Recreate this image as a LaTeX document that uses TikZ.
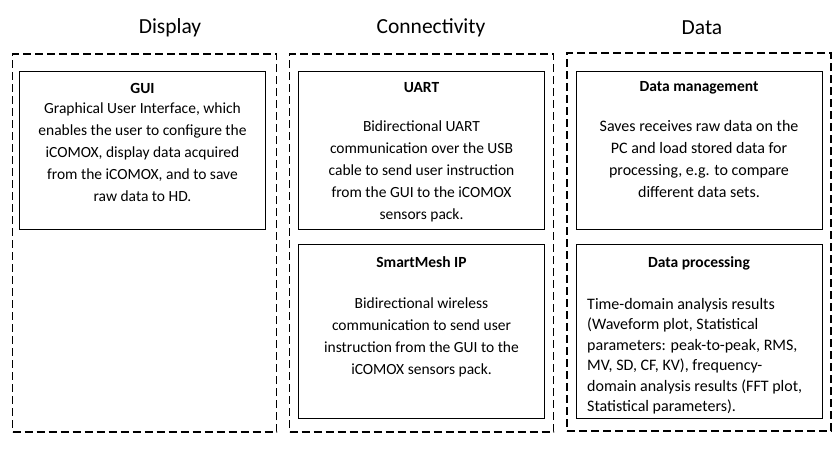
\documentclass[tikz,border=0pt]{standalone}
\usepackage{fontspec}
\setmainfont{Carlito}
\usetikzlibrary{positioning}
\tikzset{
  groupbox/.style={draw,line width=1.8pt,dash pattern=on 8pt off 4pt,minimum width=264pt,minimum height=378pt,inner sep=0pt},
  itembox/.style={draw,line width=0.8pt,minimum width=246pt,inner sep=0pt},
  grouptitle/.style={font=\fontsize{21.5}{24}\selectfont},
  itemhead/.style={font=\fontsize{15.5}{18}\selectfont\bfseries},
  itemtext/.style={align=center,inner sep=0pt,anchor=north,font=\fontsize{15.5}{22}\selectfont}
}
\begin{document}
\begin{tikzpicture}[x=1pt,y=-1pt]
\useasboundingbox (0,0) rectangle (835,453);
%groups
\node[groupbox](display) at (144.5,243){};
\node[groupbox](connect) at (421.5,243){};
\node[groupbox](data) at (699,242){};
\node[grouptitle](tdisplay) at (170,28){Display};
\node[grouptitle](tconnect) at (431,28){Connectivity};
\node[grouptitle](tdata) at (702,28){Data};
%items
\node[itembox,minimum height=158pt](gui) at (142.5,150){};
\node[itembox,minimum height=158pt](uart) at (421.5,150){};
\node[itembox,minimum height=158pt](dman) at (699,150){};
\node[itembox,minimum height=174pt](smesh) at (421.5,331){};
\node[itembox,minimum height=174pt](dproc) at (699,331){};
%texts
\node[itemhead](hgui) at (142.5,88){GUI};
\node[itemtext](xgui) at (142.5,103){Graphical User Interface, which\\enables the user to configure the\\iCOMOX, display data acquired\\from the iCOMOX, and to save\\raw data to HD.};
\node[itemhead](huart) at (421.5,88){UART};
\node[itemtext](xuart) at (421.5,121){Bidirectional UART\\communication over the USB\\cable to send user instruction\\from the GUI to the iCOMOX\\sensors pack.};
\node[itemhead](hdman) at (699,88){Data management};
\node[itemtext,font=\fontsize{16}{22}\selectfont](xdman) at (699,120){Saves receives raw data on the\\PC and load stored data for\\processing, e.g. to compare\\different data sets.};
\node[itemhead](hsmesh) at (421.5,262){SmartMesh IP};
\node[itemtext](xsmesh) at (421.5,298){Bidirectional wireless\\communication to send user\\instruction from the GUI to the\\iCOMOX sensors pack.};
\node[itemhead](hdproc) at (699,263){Data processing};
\node[itemtext,align=left,anchor=north west,font=\fontsize{16}{20.5}\selectfont](xdproc) at (587,298){Time-domain analysis results\\(Waveform plot, Statistical\\parameters: peak-to-peak, RMS,\\MV, SD, CF, KV), frequency-\\domain analysis results (FFT plot,\\Statistical parameters).};
\end{tikzpicture}
\end{document}
